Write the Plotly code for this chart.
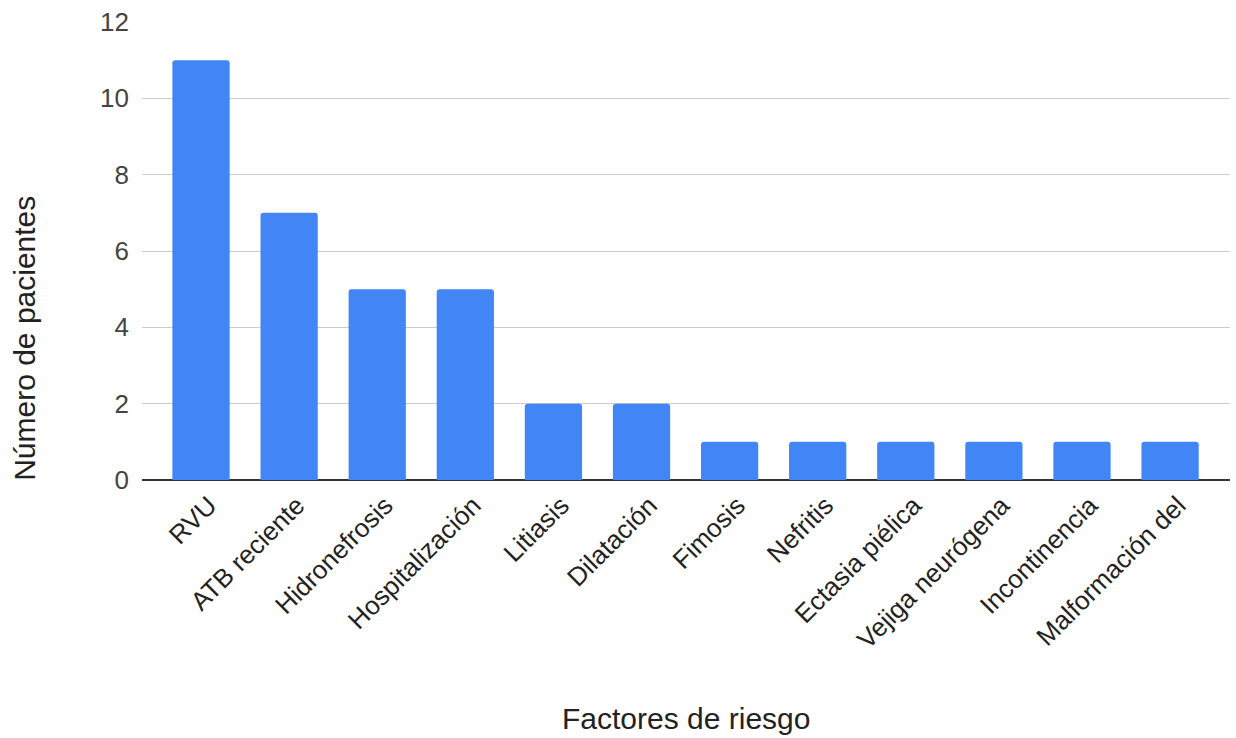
import plotly.graph_objects as go

factores = ["RVU", "ATB reciente", "Hidronefrosis", "Hospitalización", "Litiasis",
            "Dilatación", "Fimosis", "Nefritis", "Ectasia piélica",
            "Vejiga neurógena", "Incontinencia", "Malformación del"]
pacientes = [11, 7, 5, 5, 2, 2, 1, 1, 1, 1, 1, 1]
y_ticks = [0, 2, 4, 6, 8, 10, 12]

FONT = "Liberation Sans, Arial, sans-serif"

fig = go.Figure(go.Bar(
    x=factores,
    y=pacientes,
    marker=dict(color="#4285F4", cornerradius=3, line=dict(width=0)),
    hoverinfo="x+y",
))

fig.update_layout(
    width=1236,
    height=738,
    margin=dict(l=142, r=6, t=22, b=258),
    plot_bgcolor="white",
    paper_bgcolor="white",
    bargap=0.35,
    showlegend=False,
    font=dict(family=FONT, color="#222222"),
)

fig.update_xaxes(
    type="category",
    range=[-0.67, 11.68],
    tickangle=-45,
    tickfont=dict(size=26, color="#222222"),
    showgrid=False,
    showline=False,
    ticks="",
    ticklabelshift=8,
    ticklabelstandoff=4,
)

fig.update_yaxes(
    range=[0, 12],
    tickvals=y_ticks,
    tickfont=dict(size=26, color="#444444"),
    showgrid=True,
    gridcolor="#cccccc",
    gridwidth=1,
    zeroline=True,
    zerolinecolor="#333333",
    zerolinewidth=2,
    ticks="",
    ticklabelstandoff=12,
)

fig.add_annotation(
    text="Número de pacientes", textangle=-90,
    xref="paper", yref="paper", x=-0.1086, y=0.31,
    xanchor="center", yanchor="middle", showarrow=False,
    font=dict(size=30, color="#222222", family=FONT),
)
fig.add_annotation(
    text="Factores de riesgo",
    xref="paper", yref="paper", x=0.5, y=-0.52,
    xanchor="center", yanchor="middle", showarrow=False,
    font=dict(size=30, color="#222222", family=FONT),
)

fig.write_html("out.html")
